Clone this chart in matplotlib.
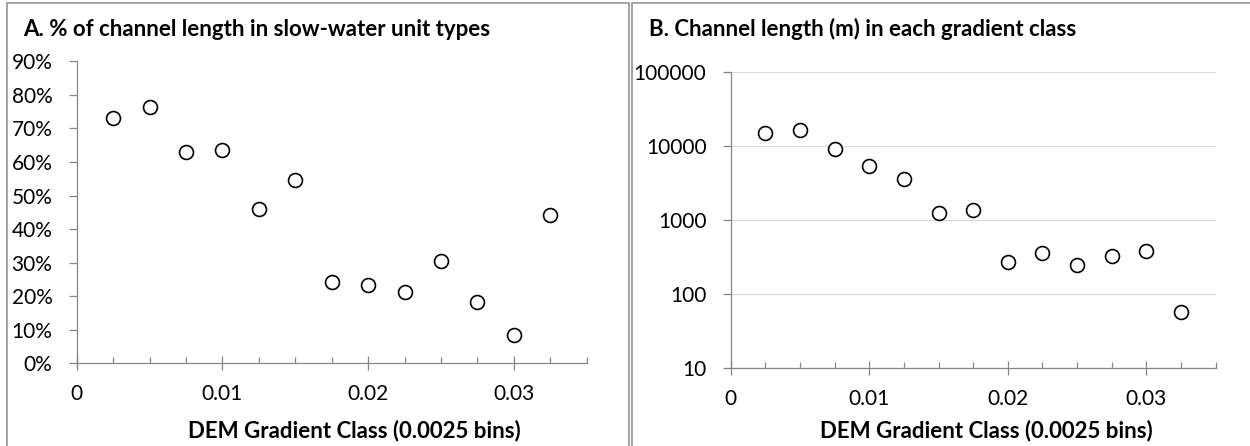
import matplotlib
matplotlib.use("Agg")
import matplotlib.pyplot as plt
from matplotlib.patches import Rectangle
from matplotlib.ticker import FixedLocator, MultipleLocator, FuncFormatter

# Gradient class (bin value) for each point
gradient_class = [0.0025, 0.005, 0.0075, 0.01, 0.0125, 0.015, 0.0175,
                  0.02, 0.0225, 0.025, 0.0275, 0.03, 0.0325]

# A: percent of channel length in slow-water unit types
slow_water_pct = [73.0, 76.4, 63.1, 63.6, 46.0, 54.6, 24.1,
                  23.2, 21.2, 30.5, 18.3, 8.4, 44.3]

# B: channel length (m) in each gradient class
channel_length_m = [15200, 16700, 9100, 5420, 3660, 1240, 1370,
                    271, 361, 247, 327, 381, 57.5]

x_ticks = [0, 0.01, 0.02, 0.03]
x_tick_labels = ["0", "0.01", "0.02", "0.03"]
pct_ticks = [0, 10, 20, 30, 40, 50, 60, 70, 80, 90]
len_ticks = [10, 100, 1000, 10000, 100000]

title_a = "A. % of channel length in slow-water unit types"
title_b = "B. Channel length (m) in each gradient class"
x_label = "DEM Gradient Class (0.0025 bins)"

W, H = 1250, 446
plt.rcParams["font.family"] = ["Lato", "DejaVu Sans"]
AXIS_GRAY = "#868686"
FRAME_GRAY = "#8c8c8c"
FS_TICK = 15
FS_BOLD = 16

fig = plt.figure(figsize=(W / 100, H / 100), dpi=100)


def fx(px):
    return px / W


def fy(py):
    return 1 - py / H


# panel frames
for x0, x1 in [(6.5, 628.8), (632.3, 1260)]:
    fig.patches.append(Rectangle((fx(x0), fy(470)), fx(x1 - x0), (470 - 2.7) / H,
                                 transform=fig.transFigure, fill=False,
                                 edgecolor=FRAME_GRAY, linewidth=1.1))


def style_axis(ax):
    for side in ("top", "right"):
        ax.spines[side].set_visible(False)
    for side in ("left", "bottom"):
        ax.spines[side].set_color(AXIS_GRAY)
        ax.spines[side].set_linewidth(0.9)
    ax.set_xlim(0, 0.035)
    ax.xaxis.set_major_locator(FixedLocator(x_ticks))
    ax.set_xticklabels(x_tick_labels)
    ax.xaxis.set_minor_locator(MultipleLocator(0.0025))
    ax.tick_params(axis="x", which="major", direction="inout", length=9.5,
                   width=0.9, color=AXIS_GRAY, labelsize=FS_TICK, pad=10)
    ax.tick_params(axis="x", which="minor", direction="in", length=4,
                   width=0.9, color=AXIS_GRAY)
    ax.tick_params(axis="y", which="major", direction="out", length=5.5,
                   width=0.9, color=AXIS_GRAY, labelsize=FS_TICK, pad=12)
    ax.tick_params(axis="y", which="minor", length=0)


# Panel A
ax1 = fig.add_axes([fx(76.7), fy(363.3), fx(586.7 - 76.7), (363.3 - 61.3) / H])
style_axis(ax1)
ax1.set_ylim(0, 90)
ax1.yaxis.set_major_locator(FixedLocator(pct_ticks))
ax1.yaxis.set_major_formatter(FuncFormatter(lambda v, p: f"{v:.0f}%"))
ax1.plot(gradient_class, slow_water_pct, linestyle="none", marker="o",
         markersize=10, markerfacecolor="white", markeredgecolor="black",
         markeredgewidth=1.2, clip_on=False)

# Panel B
ax2 = fig.add_axes([fx(730.7), fy(368.3), fx(1215.7 - 730.7), (368.3 - 72.3) / H])
style_axis(ax2)
ax2.set_yscale("log")
ax2.set_ylim(10, 100000)
ax2.yaxis.set_major_locator(FixedLocator(len_ticks))
ax2.yaxis.set_major_formatter(FuncFormatter(lambda v, p: f"{v:.0f}"))
ax2.yaxis.set_minor_locator(FixedLocator([]))
ax2.grid(axis="y", which="major", color="#d9d9d9", linewidth=0.9)
ax2.set_axisbelow(True)
ax2.plot(gradient_class, channel_length_m, linestyle="none", marker="o",
         markersize=10, markerfacecolor="white", markeredgecolor="black",
         markeredgewidth=1.2, clip_on=False)

# titles and axis labels
fig.text(fx(23), fy(35.5), title_a, fontsize=FS_BOLD, fontweight="bold",
         ha="left", va="baseline")
fig.text(fx(649), fy(35.5), title_b, fontsize=FS_BOLD, fontweight="bold",
         ha="left", va="baseline")
fig.text(fx(354), fy(431), x_label, fontsize=FS_BOLD, fontweight="bold",
         ha="center", va="center")
fig.text(fx(986), fy(431), x_label, fontsize=FS_BOLD, fontweight="bold",
         ha="center", va="center")

fig.savefig("out.png", dpi=100)
